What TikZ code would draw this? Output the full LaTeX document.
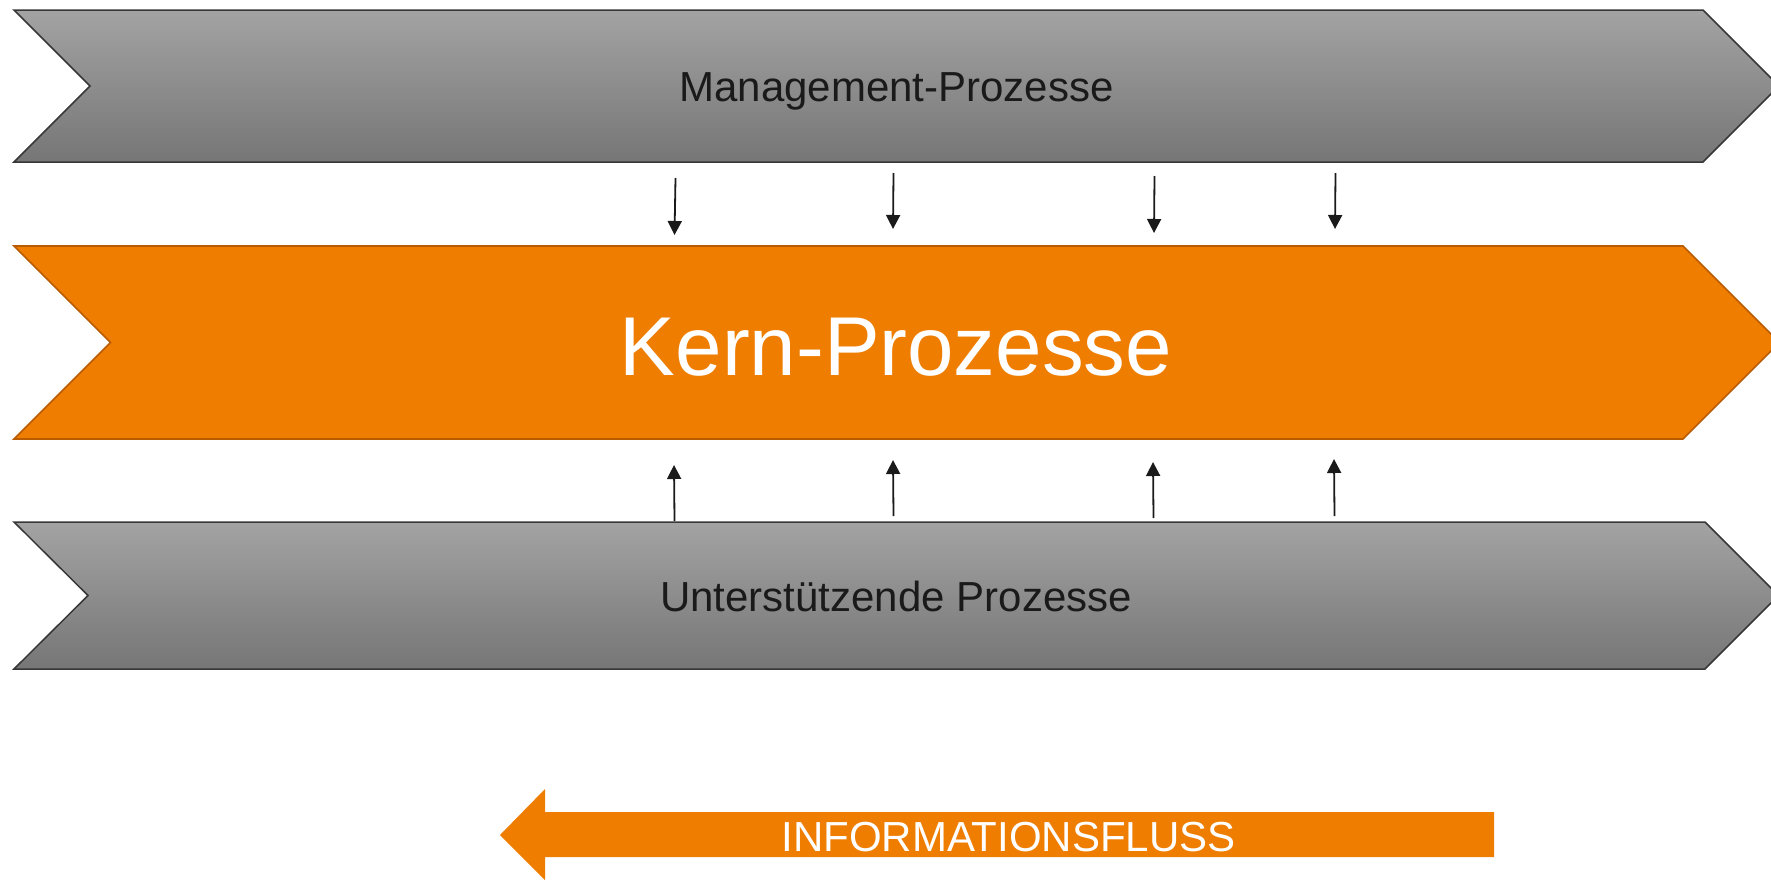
\documentclass[tikz,border=0pt]{standalone}
\usepackage{fontspec}
\setmainfont{Liberation Sans}
\usetikzlibrary{arrows.meta}
\definecolor{korange}{RGB}{239,125,0}
\definecolor{korangeline}{RGB}{185,92,0}
\definecolor{gtop}{RGB}{163,163,163}
\definecolor{gbot}{RGB}{118,118,118}
\definecolor{gline}{RGB}{55,55,55}
\definecolor{txtdark}{RGB}{26,26,26}
\begin{document}
\begin{tikzpicture}[x=1pt,y=-1pt,
  grayband/.style={draw=gline,line width=1.5pt,top color=gtop,bottom color=gbot,line join=miter},
  orangeband/.style={draw=korangeline,line width=1.7pt,fill=korange,line join=miter},
  bandtext/.style={text=txtdark,font=\fontsize{42}{50}\selectfont,anchor=base,inner sep=0pt},
  kerntext/.style={text=white,font=\fontsize{83.5}{96}\selectfont,anchor=base,inner sep=0pt},
  infotext/.style={text=white,font=\fontsize{42}{50}\selectfont,anchor=base,inner sep=0pt},
  flow/.style={draw=txtdark,line width=1.8pt,-{Triangle[width=14pt,length=14pt]}}]
\useasboundingbox (0,0) rectangle (1771,881);
\begin{scope}
\clip (0,0) rectangle (1771,881);
% bands
\path[grayband] (14,10) -- (1703,10) -- (1779,86) -- (1703,162) -- (14,162) -- (90,86) -- cycle;
\path[orangeband] (14,246) -- (1683,246) -- (1779.5,342.5) -- (1683,439) -- (14,439) -- (110.5,342.5) -- cycle;
\path[grayband] (14,522) -- (1705,522) -- (1778.5,595.5) -- (1705,669) -- (14,669) -- (88,595.5) -- cycle;
% information flow arrow
\path[fill=korange] (1494,812) -- (545,812) -- (545,789) -- (500,835) -- (545,880) -- (545,857) -- (1494,857) -- cycle;
\end{scope}
% texts
\node[bandtext] (mgmt) at (896.5,101) {Management-Prozesse};
\node[kerntext] (kern) at (896,375) {Kern-Prozesse};
\node[bandtext] (support) at (896,611) {Unterstützende Prozesse};
\node[infotext] (info) at (1008.5,851) {INFORMATIONSFLUSS};
% connector ends
\coordinate (d1s) at (675.5,178); \coordinate (d1e) at (674.5,235);
\coordinate (d2s) at (893.5,173); \coordinate (d2e) at (893,229);
\coordinate (d3s) at (1154.5,176); \coordinate (d3e) at (1154,233);
\coordinate (d4s) at (1335.5,173); \coordinate (d4e) at (1335,229);
\coordinate (u1s) at (674.5,521); \coordinate (u1e) at (674,465);
\coordinate (u2s) at (893.5,516); \coordinate (u2e) at (893,460);
\coordinate (u3s) at (1153.5,518); \coordinate (u3e) at (1153,462);
\coordinate (u4s) at (1334.5,516); \coordinate (u4e) at (1334,459);
\foreach \n in {d1,d2,d3,d4,u1,u2,u3,u4}{\draw[flow] (\n s) -- (\n e);}
\end{tikzpicture}
\end{document}
